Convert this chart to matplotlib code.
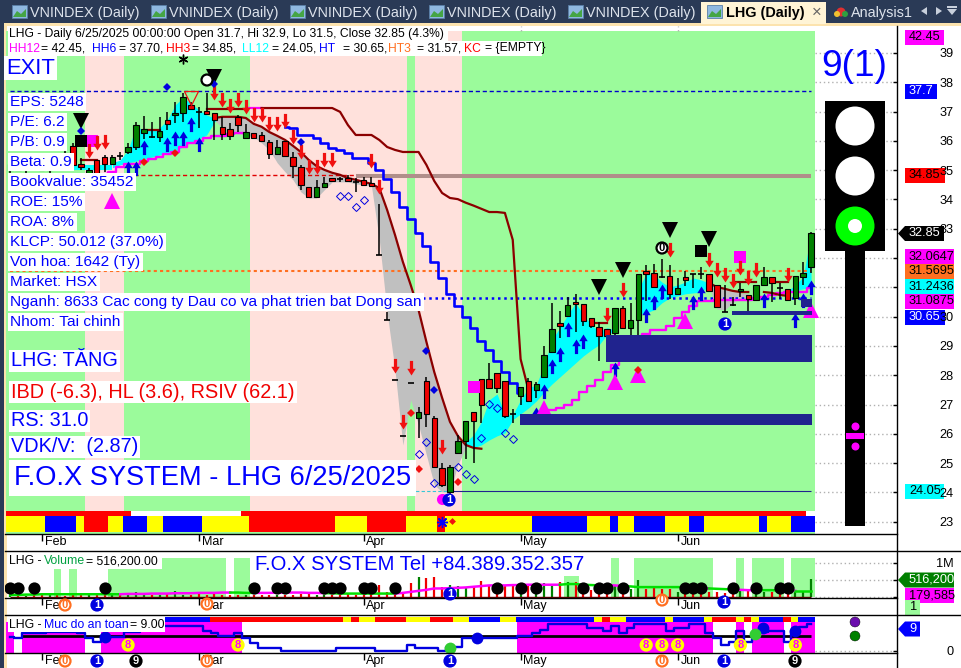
import numpy as np
import matplotlib
matplotlib.use("Agg")
import matplotlib.pyplot as plt
from matplotlib.patches import Rectangle, Circle, Polygon
from matplotlib.path import Path
from matplotlib.transforms import ScaledTranslation

plt.rcParams['font.family'] = ['Liberation Sans', 'DejaVu Sans']
W, H = 961, 668

# ---------- DATA ----------
# candles: bars 1..103
opens = [35.0,35.2,35.1,35.3,35.2,35.0,35.4,35.6,35.83,35.21,34.80,35.35,35.45,35.21,35.49,35.62,35.79,36.27,36.13,36.13,36.71,36.88,36.95,37.23,36.99,37.02,36.95,36.48,36.41,36.82,36.10,36.27,36.20,35.96,35.55,36.00,35.45,35.11,34.43,34.09,34.43,34.73,34.70,34.73,34.60,34.67,34.56,32.11,29.89,27.84,25.93,27.74,26.54,27.81,26.54,24.84,24.02,25.35,25.76,26.75,27.87,27.87,28.08,27.81,26.68,27.29,27.81,27.50,27.94,28.80,29.79,30.02,30.50,30.43,29.96,29.65,29.58,29.44,30.30,29.62,29.89,31.56,31.49,31.36,31.39,30.77,31.36,31.46,31.46,31.46,31.08,30.16,30.40,30.88,30.74,30.57,31.08,31.36,30.98,30.95,30.64,31.36,31.70]
highs = [35.3,35.4,35.3,35.5,35.4,35.2,35.6,35.8,35.93,35.42,35.08,35.35,35.52,35.52,35.62,35.93,36.65,36.85,36.65,36.82,36.99,37.33,37.64,37.33,37.16,37.64,36.95,36.82,36.61,36.88,36.58,36.27,36.30,36.03,36.03,36.00,35.62,35.18,34.43,34.67,34.77,34.73,34.77,34.84,34.73,34.77,34.77,33.85,30.16,27.84,25.93,27.74,26.92,27.94,26.61,25.01,24.94,25.96,26.44,26.75,27.87,28.42,28.08,27.81,26.85,27.60,27.91,27.77,29.00,30.47,30.20,30.67,30.77,30.43,29.96,29.82,29.58,30.30,30.37,30.47,31.46,31.77,31.80,31.97,31.77,31.32,31.56,31.46,31.70,31.46,31.08,31.08,30.67,31.15,30.74,31.08,31.70,31.36,31.15,30.95,31.39,31.87,32.90]
lows = [34.8,35.0,34.9,35.1,35.0,34.8,35.2,35.4,35.01,35.01,34.73,34.67,34.94,35.18,35.35,35.55,35.69,36.07,36.10,35.96,36.37,36.61,36.65,37.06,36.44,36.88,36.03,36.03,36.03,36.30,36.10,36.10,36.00,35.38,35.55,35.49,34.73,34.33,34.09,34.09,34.43,34.63,34.60,34.63,34.26,34.50,34.46,32.11,29.89,27.84,25.93,27.74,25.86,26.24,24.87,24.19,23.74,25.35,25.14,25.01,26.37,27.53,27.40,26.54,26.37,26.99,27.09,27.23,27.94,28.80,29.27,30.02,29.48,29.68,29.62,28.49,29.10,28.93,29.58,29.10,29.21,30.54,30.98,31.32,30.61,30.77,31.05,30.98,31.29,30.88,30.33,30.16,30.37,30.67,30.20,30.57,31.08,30.50,30.61,30.57,30.40,31.08,31.50]
closes = [35.2,35.0,35.3,35.1,35.0,35.2,35.2,35.5,35.18,35.11,35.01,34.67,35.21,35.45,35.49,35.79,36.54,36.41,36.13,36.34,36.58,36.95,37.50,37.09,36.99,36.92,36.71,36.24,36.17,36.54,36.30,36.10,36.00,35.55,35.79,35.49,35.14,34.50,34.09,34.43,34.56,34.63,34.70,34.63,34.60,34.50,34.46,32.11,29.89,27.84,25.93,27.74,26.75,26.68,24.87,24.26,24.87,25.76,26.44,26.44,26.99,27.57,27.57,26.61,26.68,27.60,27.12,27.70,28.69,29.58,29.68,30.40,30.43,29.85,29.68,29.34,29.34,30.30,29.62,29.89,31.46,31.46,31.01,31.36,30.77,30.98,31.25,31.46,31.46,30.88,30.33,30.16,30.40,30.95,30.60,31.08,31.36,31.15,30.98,30.57,31.39,31.49,32.85]
volumes = [.06,.05,.04,.06,.05,.05,.07,.04,.05,.06,.05,.08,.05,.06,.05,.06,.16,.05,.06,.07,.08,.17,.06,.07,.08,.06,.10,.07,.06,.07,.06,.06,.06,.05,.05,.05,.05,.09,.11,.06,.06,.05,.05,.08,.07,.06,.10,.36,.15,.05,.15,.41,.59,.56,.59,.28,.36,.31,.26,.31,.46,.34,.17,.36,.34,.22,.33,.13,.40,.33,.43,.43,.45,.17,.20,.15,.13,.34,.13,.23,.49,.24,.26,.22,.22,.16,.16,.16,.14,.16,.16,.13,.08,.20,.20,.14,.14,.16,.10,.09,.16,.16,.516]
vol_ma = [.06,.06,.07,.07,.08,.08,.08,.08,.08,.08,.08,.08,.08,.08,.08,.09,.09,.09,.10,.10,.10,.11,.11,.11,.12,.12,.12,.13,.13,.13,.12,.12,.12,.12,.13,.13,.13,.13,.12,.12,.11,.11,.10,.10,.10,.10,.10,.10,.10,.10,.12,.15,.18,.21,.25,.25,.26,.27,.28,.30,.32,.34,.34,.34,.35,.35,.36,.36,.36,.36,.36,.38,.38,.36,.35,.34,.34,.34,.32,.31,.29,.29,.29,.29,.29,.29,.29,.29,.27,.25,.24,.23,.22,.21,.20,.20,.20,.20,.19,.19,.18,.18,.18]
safety = [5.87,5.18,7.5,7.5,7.5,7.91,7.91,7.91,7.91,7.23,5.18,3.82,5.87,5.87,5.87,7.91,7.91,8.6,9.28,9.96,10.37,10.37,10.37,10.37,10.37,8.19,7.23,6.28,6.28,7.23,5.18,3.14,1.36,1.36,1.36,.14,.14,.14,.14,.14,.14,.14,1.36,1.36,1.36,1.36,1.36,.14,.14,.14,.14,2.46,1.36,1.36,1.36,0,1.77,1.77,5.18,5.18,5.18,5.18,5.18,5.18,5.18,6.28,6.28,7.5,8.6,10.91,10.91,10.91,10.91,10.91,9.55,9.55,8.19,10.37,7.23,9.28,10.91,10.91,10.91,10.91,8.19,9.55,9.55,10.91,10.91,7.23,5.18,2.46,3.82,8.19,3.82,7.91,7.91,8.19,8.19,3.82,8.19,9.96,10.91]

months = ['Feb', 'Mar', 'Apr', 'May', 'Jun']
month_bars = [5, 25, 46, 66, 86]
price_ticks = list(range(23, 40))
price_labels = ['' if p in (31, 32) else str(p) for p in price_ticks]

# trend bands (first bar, last bar)
green_spans = [(1, 10), (16, 31), (52, 52), (59, 103)]
pink_spans = [(11, 15), (32, 51), (53, 58)]

# colour strip under the price pane (edge bars)
strip_edges = [.5, 5.4, 9.4, 10.4, 13.4, 15.4, 18.4, 20.4, 25.4, 31.4, 42.4, 46.4, 51.4, 55.4, 56.4, 67.4, 74.4, 77.4, 78.4, 80.4, 84.4, 87.4, 89.4, 96.4, 97.4, 100.4, 103.5]
strip_cols = ['y', 'b', 'y', 'r', 'y', 'b', 'y', 'b', 'y', 'r', 'y', 'r', 'y', 'r', 'y', 'b', 'y', 'b', 'y', 'b', 'y', 'b', 'y', 'b', 'y', 'b']
topstrip_edges = [20.7, 26.4, 43.4, 44.4, 45.4, 47.4, 51.4, 54.4, 57.4, 59.4, 63.4, 65.4, 75.4, 76.4, 77.4, 79.4, 84.4, 85.4, 89.4, 90.4, 93.4, 94.4, 95.4, 96.4, 99.4, 100.4, 101.4, 103.5]
topstrip_cols = ['b', 'r', 'y', 'r', 'y', 'r', 'y', 'r', 'y', 'b', 'y', 'b', 'y', 'r', 'y', 'b', 'y', 'b', 'y', 'r', 'y', 'r', 'y', 'b', 'r', 'y', 'b']

# clouds: first bar, upper values, lower values
cyan_clouds = [
 (1, [35.18]*14, [35.01]*14),
 (14, [35.25,35.35,35.69,36.48,36.37,36.37,36.44,36.71,37.23,37.47,37.29,37.06,36.88,36.78,36.82,36.82,36.82],
      [35.08,35.18,35.25,35.31,35.38,35.45,35.52,35.59,35.66,35.79,35.96,36.07,36.20,36.65,36.75,36.78,36.78]),
 (59, [25.72,25.96,26.41,27.16,27.36,26.65,26.65,27.16,27.57,27.67,28.35,29.21,29.62,30.06,30.47,30.06,29.72,29.48,29.62,29.55],
      [25.59,25.52,25.62,25.79,25.93,26.03,26.48,26.68,26.88,27.12,27.43,27.70,27.94,28.18,28.42,28.66,28.86,29.04,29.38,29.51]),
 (81, [30.91,31.49,31.42,31.18,31.01,31.08,31.18,31.32,31.25,31.15],
      [30.09,30.13,30.23,30.47,30.64,30.71,30.78,30.81,30.84,31.05]),
 (100, [30.88,31.08,31.36,32.85], [30.84,30.88,30.95,30.98]),
]
gray_clouds = [
 (27, [36.78,36.82,36.82,36.82,36.78,36.58,36.48,36.30,36.17,36.03,35.83,35.62,35.35,35.14,35.01,34.91,34.84,34.73,34.67,34.60,34.53,34.39,33.64,32.79,31.87,31.08,30.23,29.14,28.11,27.23,26.41,25.93,25.62],
      [36.71,36.44,36.27,36.24,36.20,36.13,35.93,35.69,35.25,34.94,34.67,34.26,34.05,34.05,34.33,34.60,34.60,34.60,34.53,34.50,34.46,32.62,30.13,28.18,25.62,27.16,26.30,25.28,24.26,24.02,24.02,24.94,25.52]),
 (90, [31.08,31.05,30.98,30.91,30.81,30.78], [31.05,30.26,30.23,30.47,30.64,30.74]),
]
fast_line = [36.78,36.82,36.82,36.82,36.78,36.58,36.48,36.30,36.17,36.03,35.83,35.62,35.35,35.14,35.01,34.91,34.84,34.73,34.67,34.60,34.53,34.39,33.64,32.79,31.87,31.08,30.23,29.14,28.11,27.23,26.41,25.93,25.62,25.52,25.49]
stop_line = [36.48,36.44,36.20,36.20,36.10,35.93,35.76,35.69,35.59,35.42,35.42,35.25,35.01,34.70,34.26,33.74,33.34,32.86,32.41,31.87,31.32,30.77,30.37,29.99,29.62,29.17,28.86,28.49,28.11,27.74,27.40]
long_line = [37.12]*10 + [36.99,36.54,36.20,36.20,36.20,36.03,35.79,35.69,35.62,35.62,35.62,35.18,34.63,34.22,34.05,34.01,33.89,33.79,33.68,33.57,33.57,33.54,32.62,28.55,27.50]
hold_segs = [(10, [35.35]*3), (18, [36.37]*3), (26, [37.09]*6), (75, [29.79]*3),
             (90, [31.15,31.01,30.95,30.88,30.84,30.84]), (93, [31.19]*4), (97, [30.84,30.81,30.74,30.71]), (98, [31.19]*3)]
magenta_low = [34.87,34.94,35.11,35.21,35.21,35.31,35.38,35.45,35.55,35.62,35.79,35.93,36.00,36.10,36.17,36.17,36.24,36.27,36.27]
magenta_high = [26.71,26.75,26.82,26.88,26.99,27.16,27.43,27.64,27.84,28.11,28.35,28.52,28.9,29.2,29.4,29.55,29.54,29.68,29.96,30.16,30.37,30.54,30.54,30.57,30.57,30.57,30.57,30.57,30.64,30.67,30.74,30.81,30.84,30.84,30.84,30.98]

red_arrow_bar = [11,12,13,27,28,29,30,31,32,33,34,35,36,37,38,39,40,41,42,47,48,50,52,51,56,77,79,85,90,91,92,93,94,95,96,100]
red_arrow_val = [35.42,35.69,35.72,37.40,37.16,36.95,37.16,36.92,36.65,36.65,36.34,36.34,36.44,35.90,35.38,34.87,34.87,35.11,35.11,35.08,34.19,28.08,28.01,26.17,25.31,29.82,30.67,32.04,31.70,31.36,31.18,30.98,31.42,31.08,31.36,31.18]
blue_arrow_bar = [16,17,18,21,22,23,24,25,68,69,70,71,72,73,74,78,82,83,84,88,89,97,101,102,103]
blue_arrow_val = [35.31,35.31,36.03,36.13,36.34,36.34,36.82,36.13,26.92,27.70,28.56,28.97,29.82,29.24,29.41,28.45,30.30,30.74,31.12,30.74,31.05,30.81,30.13,30.81,31.25]
tri_dn_bar = [10,27,85,90,79,76]
tri_dn_val = [36.68,38.18,32.96,32.65,31.59,31.01]
blk_sq_bar, blk_sq_val = [10, 89], [36.00, 32.24]
mag_sq_bar, mag_sq_val = [11.4, 94, 60], [36.00, 32.04, 27.60]
mag_tri_bar, mag_tri_val = [14, 78, 81, 87, 103, 69], [33.95, 27.77, 28.01, 29.85, 30.23, 26.88]
dia_blue_bar, dia_blue_val = [21,27,10,38,54,55], [37.84,37.94,36.34,35.96,28.83,27.50]
dia_red_bar, dia_red_val = [18,22,52,53,58,81], [35.28,35.59,26.71,24.80,24.36,28.18]
dia_open_bar = [43,44,45,46,53,54,55,58,59,60,61,62,63,64,65]
dia_open_val = [34.12,34.12,33.74,33.98,25.31,25.72,24.32,24.87,24.63,24.46,25.86,27.02,26.88,26.03,25.83]
vol_blob_bars = [1,2,4,13,32,35,36,41,42,43,46,47,50,63,66,68,74,76,77,79,87,88,89,93,96,99,100]
vol_green_spans = [(7,7),(9,9),(14,28),(30,31),(78,78),(81,90),(94,94),(96,99),(101,103)]
vol_ma_cols = [(1,15,'#00E000'),(15,29,'#FF00FF'),(29,32,'#00E000'),(32,41,'#FF00FF'),(41,50,'#00E000'),(50,71,'#FF00FF'),(71,76,'#00E000'),(76,79,'#FF00FF'),(79,87,'#00E000'),(87,90,'#FF00FF'),(90,93,'#00E000'),(93,96,'#FF00FF'),(96,99,'#00E000'),(99,101,'#FF00FF'),(101,103,'#00E000')]
safety_spans = [(1,1),(3,10),(13,30),(66,90),(94,94),(96,99),(101,103)]
safety_blue_bars, safety_blue_vals = [13, 60.5, 96.9, 100.9], [5.87, 5.18, 9.28, 8.19]
safety_green_bars, safety_green_vals = [57, 95.9], [1.36, 6.82]
safety_eight_bars = [16, 30, 82, 84, 86, 94, 101]

GREEN, PINK = '#9BFB9B', '#FFE1DC'
NAVY = '#20238E'
CMAP = {'y': '#FFFF00', 'b': '#0000FF', 'r': '#FF0000'}
BAR0, STEP = 2.5, 7.85           # px of bar 0, px per bar
px2bar = lambda x: (x - BAR0) / STEP
XL = (px2bar(5), px2bar(897))

fig = plt.figure(figsize=(W/100, H/100), dpi=100, facecolor='white')

def pane(top, bottom, ylim):
    ax = fig.add_axes([5/W, 1-bottom/H, 892/W, (bottom-top)/H], zorder=2)
    ax.patch.set_alpha(0)
    ax.set_xlim(*XL); ax.set_ylim(*ylim)
    for s in ('left', 'top', 'right', 'bottom'):
        ax.spines[s].set_visible(False)
    ax.set_xticks(month_bars, months)
    ax.tick_params(axis='x', direction='out', length=5, width=1, pad=-3.5, labelsize=9, color='black')
    off = ScaledTranslation(2/72, 0, fig.dpi_scale_trans)
    for l in ax.get_xticklabels():
        l.set_ha('left'); l.set_transform(l.get_transform() + off)
    ax.yaxis.tick_right()
    ax.tick_params(axis='y', direction='in', length=3, width=1, pad=41, labelsize=9.2)
    for l in ax.get_yticklabels():
        l.set_ha('right')
    return ax

# chrome underlay
bg = fig.add_axes([0, 0, 1, 1], zorder=0)
bg.set_xlim(0, W); bg.set_ylim(H, 0); bg.axis('off')
bg.add_patch(Rectangle((0, 0), W, 23, fc='#2A3A56', ec='none'))
bg.add_patch(Rectangle((0, 23), W, 3, fc='#FCE3AE', ec='none'))
bg.add_patch(Rectangle((0, 0), 4, H, fc='#2A3A56', ec='none'))
bg.add_patch(Rectangle((4, 23), 2.5, H, fc='#FCE3AE', ec='none'))
bg.add_patch(Rectangle((701, 2), 125, 22, fc='#FFF4D6', ec='none'))
for x in (12, 151, 290, 429, 568, 707):
    bg.add_patch(Rectangle((x, 5), 15, 13, fc='#8FB8E0', ec='#5A7FA8', lw=.6))
    bg.add_patch(Polygon([(x+1, 17), (x+5, 11), (x+9, 14), (x+14, 9), (x+14, 17)], fc='#45A545', ec='none'))
for x in (30, 169, 308, 447, 586):
    bg.text(x, 13, 'VNINDEX (Daily)', color='#DDE3EC', fontsize=10.4, va='center')
bg.text(726, 13, 'LHG (Daily)', color='black', fontsize=10.4, weight='bold', va='center')
bg.text(817, 12, '×', color='#666666', fontsize=12, va='center', ha='center')
bg.text(851, 13, 'Analysis1', color='#DDE3EC', fontsize=10.4, va='center')
bg.add_patch(Circle((841, 12), 4.5, fc='#E03030', ec='none'))
bg.add_patch(Circle((837, 14), 3, fc='#F0C030', ec='none'))
bg.add_patch(Circle((845, 14), 3, fc='#30A040', ec='none'))
bg.add_patch(Polygon([(927, 7), (921, 11), (927, 15)], fc='#C8D0DC', ec='none'))
bg.add_patch(Polygon([(936, 7), (942, 11), (936, 15)], fc='#C8D0DC', ec='none'))
bg.add_patch(Polygon([(947, 9), (957, 9), (952, 15)], fc='#C8D0DC', ec='none'))
bg.add_patch(Rectangle((947, 6), 10, 1.5, fc='#C8D0DC', ec='none'))

tags = [('42.45', 37.5, 905, 944, '#FF00FF', 'black'), ('37.7', 91, 905, 937, '#0000FF', 'white'),
        ('34.85', 175.5, 905, 945, '#FF0000', 'black'), ('32.0647', 256.5, 905, 954, '#FF00FF', 'black'),
        ('31.5695', 271.5, 905, 954, '#FF6F20', 'black'), ('31.2436', 286.5, 905, 954, '#00FFFF', 'black'),
        ('31.0875', 301.5, 905, 954, '#FF00FF', 'black'), ('30.65', 317, 905, 945, '#0000FF', 'white'),
        ('24.05', 491, 905, 944, '#00FFFF', 'black'), ('179,585', 595, 905, 954, '#FF00FF', 'black'),
        ('1', 607, 905, 920, GREEN, 'black')]
for t, y, x0, x1, fc, tc in tags:
    bg.add_patch(Rectangle((x0, y-7.5), x1-x0, 15, fc=fc, ec='none'))
    bg.text(x0+(4 if t != '1' else 5), y, t, color=tc, fontsize=9.2, va='center')
for t, y, x1, fc in [('32.85', 233.5, 944, 'black'), ('516,200', 580, 954, '#008000'), ('9', 629, 920, '#0000FF')]:
    bg.add_patch(Polygon([(898, y), (905, y-7.5), (x1, y-7.5), (x1, y+7.5), (905, y+7.5)], fc=fc, ec='none'))
    bg.text(909, y, t, color='white', fontsize=9.2, va='center')

# ---------- PRICE PANE ----------
ax = pane(26, 534, (22.58, 39.92))
TOP, STRIP_T, STRIP_M, STRIP_B = 39.75, 23.37, 23.20, 22.66
bars = np.arange(1, len(closes)+1)
for spans, c in ((green_spans, GREEN), (pink_spans, PINK)):
    for a, b in spans:
        ax.bar(a-.5, TOP-STRIP_T, b-a+1, bottom=STRIP_T, align='edge', color=c, lw=0, zorder=1)
        ax.bar(a-.5, STRIP_B-22.58, b-a+1, bottom=22.58, align='edge', color=GREEN, lw=0, zorder=1)
ax.bar(.5, STRIP_T-STRIP_M, 15.9, bottom=STRIP_M, align='edge', color='#FF0000', lw=0, zorder=2)
ax.bar(30.4, STRIP_T-STRIP_M, 72, bottom=STRIP_M, align='edge', color='#FF0000', lw=0, zorder=2)
for a, b, c in zip(strip_edges[:-1], strip_edges[1:], strip_cols):
    ax.bar(a, STRIP_M-STRIP_B, b-a, bottom=STRIP_B, align='edge', color=CMAP[c], lw=0, zorder=2)
# grid stubs right of the chart
ax.hlines(price_ticks, px2bar(815), px2bar(897), color='#B0B0B0', lw=1, ls=(0, (1, 2)), zorder=1)
for m in month_bars:
    ax.vlines(m, TOP, 39.92, color='#B0B0B0', lw=1, ls=(0, (1, 2)), zorder=1)
ax.set_yticks(price_ticks, price_labels)
for l in ax.get_yticklabels():
    l.set_ha('right')

for s, up, lo in cyan_clouds:
    ax.fill_between(np.arange(s, s+len(up)), up, lo, color='#00FFFF', lw=0, zorder=3)
for s, up, lo in gray_clouds:
    ax.fill_between(np.arange(s, s+len(up)), up, lo, color='#C0C0C0', lw=0, zorder=3)

ax.hlines(37.7, 1.0, 103, color='#0000CC', lw=1, ls=(0, (3, 2)), zorder=3)
ax.hlines(34.85, 15, 47, color='#E00000', lw=1, ls=(0, (3, 2)), zorder=3)
ax.hlines(31.57, 1, 103, color='#FF6F20', lw=1.5, ls=(0, (1.5, 1.5)), zorder=3)
ax.hlines(30.65, 1, 103, color='#0000FF', lw=1.8, ls=(0, (1, 1.5)), zorder=3)
ax.hlines(34.8, 45, 103, color='#B08E8A', lw=2.9, zorder=3.2)
ax.hlines(24.05, 1, 57, color='#35C8D8', lw=.8, ls=(0, (3, 2)), zorder=3)
ax.hlines(24.05, 57, 103, color='#20238E', lw=.8, zorder=3)

ax.plot(np.arange(13, 13+len(magenta_low)), magenta_low, color='#FF00FF', lw=1.7, drawstyle='steps-mid', zorder=3.5)
ax.plot(np.arange(68, 68+len(magenta_high)), magenta_high, color='#FF00FF', lw=1.7, drawstyle='steps-mid', zorder=3.5)
ax.plot(np.arange(36, 36+len(stop_line)), stop_line, color='#0000FF', lw=1.9, drawstyle='steps-mid', zorder=3.5)
ax.plot(np.arange(33, 33+len(long_line)), long_line, color='#8B0000', lw=1.6, zorder=3.6)
ax.plot(np.arange(27, 27+len(fast_line)), fast_line, color='#8B0000', lw=1.6, zorder=3.6)
ax.hlines(37.12, 31, 33.2, color='#FF00FF', lw=1.6, zorder=3.55)
for s, v in hold_segs:
    ax.plot(np.arange(s, s+len(v)), v, color='#8B0000', lw=1.6, zorder=3.6)

for i, o, h, l, c in zip(bars, opens, highs, lows, closes):
    ax.vlines(i, l, h, color='black', lw=1.1, zorder=4)
    if o == c:
        ax.hlines(o, i-.38, i+.38, color='black', lw=1.2, zorder=4.1)
    else:
        ax.bar(i, abs(c-o), .7, bottom=min(o, c), color='#008000' if c > o else '#F00000',
               edgecolor='black', lw=.8, zorder=4.1)

arrow_up = Path([(0, 0), (.29, -.46), (.11, -.46), (.11, -1), (-.11, -1), (-.11, -.46), (-.29, -.46), (0, 0)], closed=True)
arrow_dn = Path([(0, 0), (.29, .46), (.11, .46), (.11, 1), (-.11, 1), (-.11, .46), (-.29, .46), (0, 0)], closed=True)
ax.plot(red_arrow_bar, red_arrow_val, ls='', marker=arrow_dn, ms=21, color='#F01010', mew=0, zorder=5)
ax.plot(blue_arrow_bar, blue_arrow_val, ls='', marker=arrow_up, ms=21, color='#0000E0', mew=0, zorder=5)
ax.plot(tri_dn_bar, tri_dn_val, ls='', marker='v', ms=11.5, color='black', mew=0, zorder=5)
ax.plot([24], [37.46], ls='', marker='v', ms=10, mfc='none', mec='#F01010', mew=.9, zorder=5)
ax.plot(blk_sq_bar, blk_sq_val, ls='', marker='s', ms=9, color='black', mew=0, zorder=5)
ax.plot(mag_sq_bar, mag_sq_val, ls='', marker='s', ms=9, color='#FF00FF', mew=0, zorder=4.9)
ax.plot(mag_tri_bar, mag_tri_val, ls='', marker='^', ms=11.5, color='#FF00FF', mew=0, zorder=5)
ax.plot(dia_blue_bar, dia_blue_val, ls='', marker='D', ms=4, color='#0000E0', mew=0, zorder=5)
ax.plot(dia_red_bar, dia_red_val, ls='', marker='D', ms=4, color='#F01010', mew=0, zorder=5)
ax.plot(dia_open_bar, dia_open_val, ls='', marker='D', ms=3.6, mfc='none', mec='#0000E0', mew=.7, zorder=5)
ax.plot([56], [23.78], ls='', marker='o', ms=8, color='#FF00FF', mew=0, zorder=5)
ax.bar(px2bar(606), 29.38-28.46, px2bar(811.5)-px2bar(606), bottom=28.46, align='edge', color=NAVY, lw=0, zorder=5.5)
ax.bar(px2bar(520), 26.68-26.31, px2bar(811.5)-px2bar(520), bottom=26.31, align='edge', color=NAVY, lw=0, zorder=5.5)
ax.bar(px2bar(732), 30.2-30.06, px2bar(811.5)-px2bar(732), bottom=30.06, align='edge', color=NAVY, lw=0, zorder=5.5)
ax.bar(px2bar(801), 30.6-30.32, px2bar(811.5)-px2bar(801), bottom=30.32, align='edge', color=NAVY, lw=0, zorder=5.5)
ax.plot([56], [23.0], ls='', marker=(8, 2, 0), ms=8, color='#0000FF', mew=1, zorder=5)
ax.plot([57.2], [23.03], ls='', marker='D', ms=3.5, color='#F01010', mew=0, zorder=5)

# ---------- VOLUME PANE ----------
va = pane(551, 598, (-.03, 1.35))
for a, b in vol_green_spans:
    va.bar(a-.5, 1.15, b-a+1, bottom=0, align='edge', color=GREEN, lw=0, zorder=1)
va.bar(71.5, .62, 2, bottom=0, align='edge', color=GREEN, lw=0, zorder=1)
va.hlines([0, .5, 1], px2bar(815), px2bar(897), color='#B0B0B0', lw=1, ls=(0, (1, 2)), zorder=1)
va.set_yticks([0, .5, 1], ['', '', '1M'])
for l in va.get_yticklabels():
    l.set_ha('right')
va.vlines(bars, 0, volumes, colors=['#008000' if c > o else '#F00000' for o, c in zip(opens, closes)], lw=1.6, zorder=3)
for a, b, c in vol_ma_cols:
    va.plot(np.arange(a, b+1), vol_ma[a-1:b], color=c, lw=1.8, zorder=3.5)
va.plot(vol_blob_bars, [.26]*len(vol_blob_bars), ls='', marker='o', ms=8.8, color='black', mew=0, zorder=4)
va.hlines(-.01, 1, 103, color='#600000', lw=1, zorder=3)

# ---------- SAFETY PANE ----------
sa = pane(615, 653, (-.82, 14.75))
for a, b in safety_spans:
    sa.bar(a-.5, 12.7, b-a+1, bottom=-.82, align='edge', color='#FF00FF', lw=0, zorder=1)
for a, b, c in zip(topstrip_edges[:-1], topstrip_edges[1:], topstrip_cols):
    sa.bar(a, 2.1, b-a, bottom=11.88, align='edge', color=CMAP[c], lw=0, zorder=2)
sa.hlines(0, px2bar(815), px2bar(897), color='#B0B0B0', lw=1, ls=(0, (1, 2)), zorder=1)
sa.set_yticks([0], ['0'])
for l in sa.get_yticklabels():
    l.set_ha('right')
sa.hlines(6.28, 2.5, 103, color='black', lw=2, zorder=3)
sa.plot(bars, safety, color='#0000E0', lw=1.7, drawstyle='steps-mid', zorder=3.5)
sa.plot(safety_blue_bars, safety_blue_vals, ls='', marker='o', ms=8.5, color='#0000E0', mew=0, zorder=4)
sa.plot(safety_green_bars, safety_green_vals, ls='', marker='o', ms=8.5, color='#32CD32', mew=0, zorder=4)

# ---------- OVERLAY ----------
ov = fig.add_axes([0, 0, 1, 1], zorder=5)
ov.set_xlim(0, W); ov.set_ylim(H, 0); ov.axis('off'); ov.patch.set_alpha(0)
ov.plot([5, 897], [534, 534], color='black', lw=1)
ov.plot([5, 961], [551, 551], color='black', lw=1)
ov.plot([5, 897], [598, 598], color='black', lw=1)
ov.plot([5, 961], [615, 615], color='black', lw=1)
ov.plot([5, 897], [653, 653], color='black', lw=1)
ov.plot([897, 897], [26, 668], color='black', lw=1)

WB = dict(facecolor='white', edgecolor='none', pad=1.5)
BLUE = '#0000FF'
ov.add_patch(Rectangle((8, 26), 440, 15, fc='white', ec='none'))
ov.add_patch(Rectangle((8, 41), 534, 15, fc='white', ec='none'))
ov.text(9, 33.5, 'LHG - Daily 6/25/2025 00:00:00 Open 31.7, Hi 32.9, Lo 31.5, Close 32.85 (4.3%)', fontsize=8.75, va='center', color='black')
for x, t, c in [(9, 'HH12', '#FF00FF'), (41, '= 42.45,', 'black'), (92, 'HH6', '#0000FF'), (119, '= 37.70,', 'black'),
                (166, 'HH3', '#FF0000'), (192, '= 34.85,', 'black'), (242, 'LL12', '#00FFFF'), (272, '= 24.05,', 'black'),
                (319, 'HT', '#0000FF'), (343, '= 30.65,', 'black'), (388, 'HT3', '#FF6F20'), (417, '= 31.57,', 'black'),
                (464, 'KC', '#FF0000'), (485, '= {EMPTY}', 'black')]:
    ov.text(x, 48.5, t, color=c, fontsize=8.75, va='center')
ov.text(6, 68, 'EXIT', color=BLUE, fontsize=15.8, va='center', bbox=WB)
for y, t in [(102, 'EPS: 5248'), (122, 'P/E: 6.2'), (142, 'P/B: 0.9'), (162, 'Beta: 0.9'), (182, 'Bookvalue: 35452'),
             (202, 'ROE: 15%'), (222, 'ROA: 8%'), (242, 'KLCP: 50.012 (37.0%)'), (262, 'Von hoa: 1642 (Ty)'),
             (282, 'Market: HSX'), (302, 'Nganh: 8633 Cac cong ty Dau co va phat trien bat Dong san'), (322, 'Nhom: Tai chinh')]:
    ov.text(10.5, y, t, color=BLUE, fontsize=11.05, va='center', bbox=WB)
ov.text(11, 361, 'LHG: TĂNG', color=BLUE, fontsize=14.3, va='center', bbox=WB)
ov.text(11, 392, 'IBD (-6.3), HL (3.6), RSIV (62.1)', color='#F00000', fontsize=14.3, va='center', bbox=WB)
ov.text(11, 421, 'RS: 31.0', color=BLUE, fontsize=14.3, va='center', bbox=WB)
ov.text(11, 447, 'VDK/V:  (2.87)', color=BLUE, fontsize=14.3, va='center', bbox=WB)
ov.text(14, 478, 'F.O.X SYSTEM - LHG 6/25/2025', color=BLUE, fontsize=19.6, va='center',
        bbox=dict(facecolor='white', edgecolor='none', pad=3.5))
ov.add_patch(Rectangle((8, 554), 154, 15, fc='white', ec='none', zorder=2))
ov.text(9, 561, 'LHG - ', fontsize=8.8, va='center', color='black', zorder=3)
ov.text(44, 561, 'Volume', fontsize=8.8, va='center', color='#00A040', zorder=3)
ov.text(86, 561, '= 516,200.00', fontsize=8.8, va='center', color='black', zorder=3)
ov.text(255, 564, 'F.O.X SYSTEM Tel +84.389.352.357', color=BLUE, fontsize=14.6, va='center', zorder=3)
ov.add_patch(Rectangle((8, 617), 157, 15, fc='white', ec='none', zorder=2))
ov.text(9, 625, 'LHG - ', fontsize=8.8, va='center', color='black', zorder=3)
ov.text(44, 625, 'Muc do an toan', fontsize=8.8, va='center', color=BLUE, zorder=3)
ov.text(130, 625, '= 9.00', fontsize=8.8, va='center', color='black', zorder=3)

# traffic light
ov.text(854, 66, '9(1)', color=BLUE, fontsize=26.7, va='center', ha='center')
ov.add_patch(Rectangle((845, 251), 20, 275, fc='black', ec='none'))
ov.add_patch(Rectangle((825, 101), 60, 150, fc='black', ec='none'))
ov.add_patch(Circle((855, 126), 19.5, fc='white', ec='none'))
ov.add_patch(Circle((855, 176), 19.5, fc='white', ec='none'))
ov.add_patch(Circle((855, 226), 19.5, fc='#00FF00', ec='none'))
ov.add_patch(Circle((855, 226), 7, fc='white', ec='none'))
ov.add_patch(Circle((855.5, 426.5), 4, fc='#FF00FF', ec='none'))
ov.add_patch(Circle((855.5, 446.5), 4, fc='#FF00FF', ec='none'))
ov.add_patch(Rectangle((846, 433), 18, 6, fc='#FF00FF', ec='none'))
ov.add_patch(Circle((855, 622), 5, fc='#6A0DAD', ec='black', lw=.3))
ov.add_patch(Circle((855, 636), 5, fc='#008000', ec='black', lw=.3))

def badge(x, y, t, c, fc='white', tc=None, r=5.5):
    ov.add_patch(Circle((x, y), r, fc=fc, ec=c, lw=1.6, zorder=6))
    ov.text(x, y+.2, t, color=tc or c, fontsize=8, weight='bold', ha='center', va='center', zorder=7)

for x, y in [(65, 605), (207, 604), (662, 600), (65, 661), (207, 661), (662, 661)]:
    badge(x, y, '0', '#FF6F20')
for x, y in [(97, 605), (450, 594), (724, 602), (97, 661), (450, 661), (724, 661)]:
    badge(x, y, '1', '#0000E0', fc='#0000E0', tc='white')
for x in (136, 795):
    badge(x, 661, '9', 'black', fc='black', tc='white')
for b in safety_eight_bars:
    badge(BAR0 + STEP*b, 645, '8', '#FFFF00', fc='#FFFF00', tc='#FF00FF')
badge(449, 500, '1', '#0000E0', fc='#0000E0', tc='white')
badge(725, 324, '1', '#0000E0', fc='#0000E0', tc='white')
badge(662, 248, '0', 'black')
badge(207, 80, '', 'black')
ov.plot([183], [59], marker=(6, 2, 0), ms=7, color='black', mew=1)

fig.savefig('out.png', dpi=100, facecolor='white')
